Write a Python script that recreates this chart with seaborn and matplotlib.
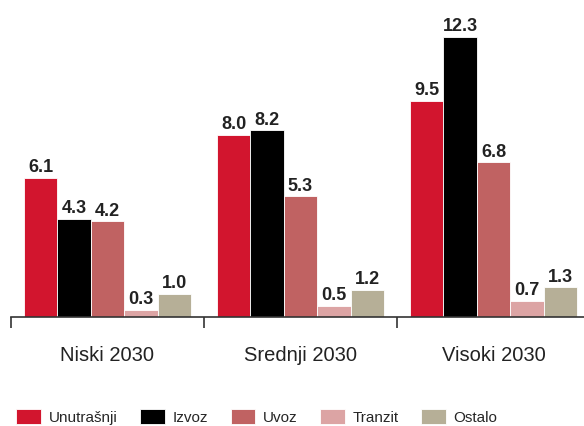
import pandas as pd
import matplotlib.pyplot as plt
import seaborn as sns

# data
scenarios = ["Niski 2030", "Srednji 2030", "Visoki 2030"]
types = ["Unutrašnji", "Izvoz", "Uvoz", "Tranzit", "Ostalo"]
unutrasnji = [6.1, 8.0, 9.5]
izvoz = [4.3, 8.2, 12.3]
uvoz = [4.2, 5.3, 6.8]
tranzit = [0.3, 0.5, 0.7]
ostalo = [1.0, 1.2, 1.3]
colors = ["#D2152E", "#000000", "#C06262", "#DCA4A4", "#B6AF97"]

rows = []
for t, vals in zip(types, [unutrasnji, izvoz, uvoz, tranzit, ostalo]):
    for s, v in zip(scenarios, vals):
        rows.append({"scenario": s, "type": t, "value": v})
df = pd.DataFrame(rows)

sns.set_style("white")
plt.rcParams["font.family"] = ["Liberation Sans", "DejaVu Sans"]

fig = plt.figure(figsize=(5.84, 4.27), dpi=100)
ax = fig.add_axes([11 / 584, 109 / 427, 579 / 584, 298 / 427])

sns.barplot(data=df, x="scenario", y="value", hue="type", order=scenarios,
            hue_order=types, palette=colors, saturation=1, width=0.865,
            edgecolor="white", linewidth=0.6, ax=ax)

for cont in ax.containers:
    ax.bar_label(cont, fmt="%.1f", padding=2, fontsize=13, fontweight="bold",
                 color="#222222")

ax.set_xlim(-0.5, 2.5)
ax.set_ylim(0, 13.1)
ax.set_xlabel("")
ax.set_ylabel("")
ax.set_yticks([])
for side in ["left", "right", "top"]:
    ax.spines[side].set_visible(False)
ax.spines["bottom"].set_color("#333333")
ax.spines["bottom"].set_linewidth(1.2)

# group separators as tick marks on the axis line
ax.set_xticks([-0.5, 0.5, 1.5, 2.5], minor=True)
ax.tick_params(axis="x", which="minor", bottom=True, length=8, width=1.2,
               color="#333333", direction="out")
ax.tick_params(axis="x", which="major", bottom=True, length=0, pad=20,
               labelsize=14.5, labelcolor="#222222")

handles, labels = ax.get_legend_handles_labels()
ax.legend_.remove()
fig.legend(handles, labels, loc="center", bbox_to_anchor=(0.44, 9.5 / 427),
           ncol=5, frameon=False, fontsize=11, handlelength=1.6,
           handleheight=1.2, handletextpad=0.5, columnspacing=1.5)

fig.savefig("out.png", dpi=100)
